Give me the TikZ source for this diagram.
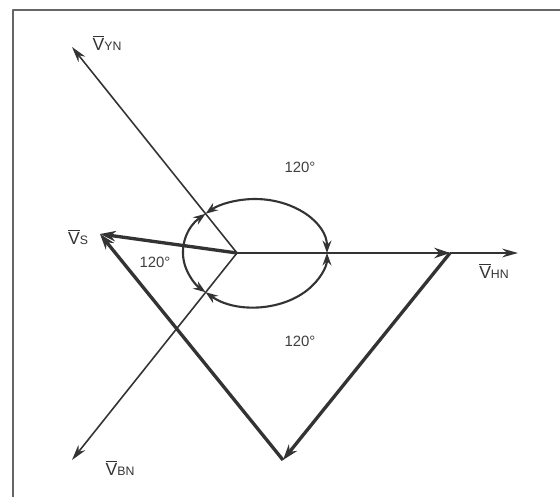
\documentclass[tikz,border=0pt]{standalone}
\usepackage{fontspec}
\setmainfont{Liberation Sans}
\usetikzlibrary{arrows.meta}
\newcommand{\phs}[2]{$\overline{\hbox{#1}}$\hbox{\fontsize{7}{8}\selectfont #2}}

\begin{document}
\begin{tikzpicture}[x=0.02cm, y=0.02cm, line join=round,
    thinvec/.style={draw=black!80, line width=0.9pt, -{Stealth[length=9pt, width=5pt]}},
    midvec/.style={draw=black!80, line width=1.2pt, -{Stealth[length=9pt, width=6pt]}},
    thickvec/.style={draw=black!80, line width=1.9pt, -{Stealth[length=9pt, width=6pt]}},
    anglearc/.style={draw=black!80, line width=1.2pt, {Stealth[length=7pt, width=5pt]}-{Stealth[length=7pt, width=5pt]}},
    lbl/.style={font=\fontsize{10}{12}\selectfont, text=black!80, inner sep=1pt},
    deg/.style={font=\fontsize{8.5}{10}\selectfont, text=black!75, inner sep=1pt}]
\useasboundingbox (0,0) rectangle (560,497);
% 边框
\draw[black!60, line width=1.1pt] (13,0) -- (13,487) -- (560,487);
% 坐标
\coordinate (O) at (237,244);
\coordinate (C) at (255,244);
\coordinate (YN) at (72,450);
\coordinate (BN) at (72,37);
\coordinate (HN) at (518,244);
\coordinate (S) at (100,263);
\coordinate (R) at (450,244);
\coordinate (B) at (283,37);
% 相量
\draw[thinvec] (O) -- (YN);
\draw[thinvec] (O) -- (BN);
\draw[thinvec] (R) -- (HN);
\draw[midvec] (O) -- (R);
\draw[thickvec] (O) -- (S);
\draw[thickvec] (R) -- (B);
\draw[thickvec] (B) -- (S);
% 角度弧
\draw[anglearc] (C) ++(0:1.44cm and 1.08cm) arc[start angle=0, end angle=133.4, x radius=1.44cm, y radius=1.08cm];
\draw[anglearc] (C) ++(133.4:1.44cm and 1.08cm) arc[start angle=133.4, end angle=226.6, x radius=1.44cm, y radius=1.08cm];
\draw[anglearc] (C) ++(226.6:1.44cm and 1.08cm) arc[start angle=226.6, end angle=360, x radius=1.44cm, y radius=1.08cm];
% 标注
\node[lbl] (lyn) at (107,454) {\phs{V}{YN}};
\node[lbl] (ls) at (78,260) {\phs{V}{S}};
\node[lbl] (lhn) at (494,226) {\phs{V}{HN}};
\node[lbl] (lbn) at (120,29) {\phs{V}{BN}};
\node[deg] (dtop) at (300,330) {120°};
\node[deg] (dbot) at (300,156) {120°};
\node[deg] (dleft) at (155,235) {120°};
\end{tikzpicture}
\end{document}
